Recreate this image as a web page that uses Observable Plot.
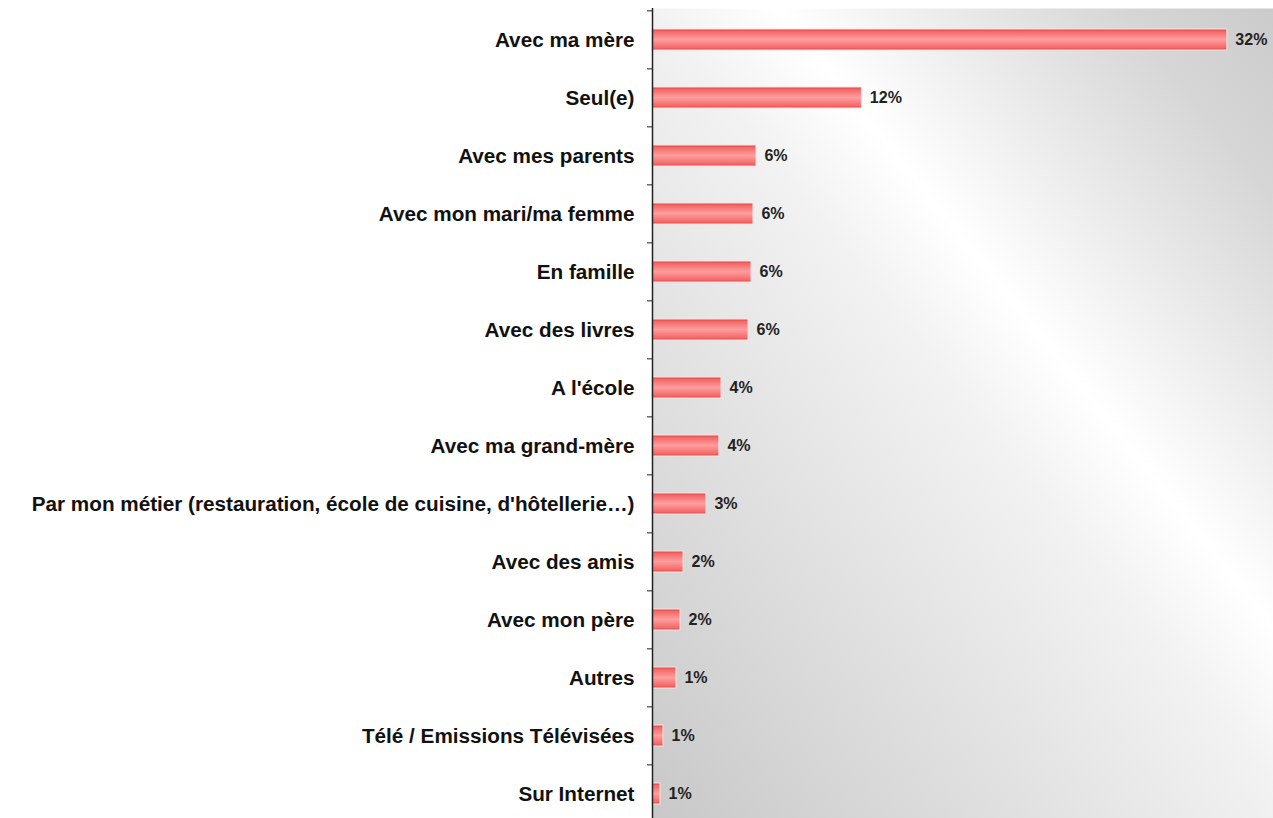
<!DOCTYPE html>
<html>
<head>
<meta charset="utf-8">
<script src="https://cdn.jsdelivr.net/npm/d3@7"></script>
<script src="https://cdn.jsdelivr.net/npm/@observablehq/plot@0.6"></script>
<style>
  html, body { margin: 0; padding: 0; background: #fff; }
  #chart svg { display: block; }
</style>
</head>
<body>
<div id="chart"></div>
<script>
const categories = [
  "Avec ma mère",
  "Seul(e)",
  "Avec mes parents",
  "Avec mon mari/ma femme",
  "En famille",
  "Avec des livres",
  "A l'école",
  "Avec ma grand-mère",
  "Par mon métier (restauration, école de cuisine, d'hôtellerie…)",
  "Avec des amis",
  "Avec mon père",
  "Autres",
  "Télé / Emissions Télévisées",
  "Sur Internet"
];
const values = [32.4, 11.8, 5.86, 5.69, 5.58, 5.41, 3.89, 3.77, 3.04, 1.75, 1.58, 1.35, 0.62, 0.45];
const valueLabels = ["32%", "12%", "6%", "6%", "6%", "6%", "4%", "4%", "3%", "2%", "2%", "1%", "1%", "1%"];

const data = categories.map((c, i) => ({cat: c, value: values[i], label: valueLabels[i]}));

const W = 1273, H = 818;
const yRange = [8.3, 824.5];
const step = (yRange[1] - yRange[0]) / categories.length;

const chart = Plot.plot({
  width: W,
  height: H,
  marginLeft: 652,
  marginRight: 0,
  marginTop: 8,
  marginBottom: 0,
  style: {fontFamily: "'Liberation Sans', Arial, sans-serif", background: "transparent", overflow: "visible"},
  x: {domain: [0, 35], axis: null},
  y: {domain: categories, range: yRange, paddingInner: 0.64, paddingOuter: 0.32, label: null},
  marks: [
    Plot.frame({fill: "url(#bgGrad)", stroke: null}),
    Plot.axisY({tickSize: 0, tickPadding: 18, fontSize: 20.7, fontWeight: "bold", fill: "#111", label: null}),
    Plot.axisY({tickSize: 5, tickFormat: () => "", dy: -step / 2, stroke: "#222", label: null}),
    Plot.barX(data, {x: "value", y: "cat", fill: "url(#barGrad)", stroke: "#fde2e2", strokeWidth: 1}),
    Plot.ruleX([0], {stroke: "#222", strokeWidth: 1.5}),
    Plot.text(data, {x: "value", y: "cat", text: "label", dx: 8, textAnchor: "start", fontSize: 16, fontWeight: "bold", fill: "#222"})
  ]
});

const svg = d3.select(chart);
const defs = svg.insert("defs", ":first-child");
const bg = defs.append("linearGradient")
  .attr("id", "bgGrad")
  .attr("gradientUnits", "userSpaceOnUse")
  .attr("x1", 1306).attr("y1", 49)
  .attr("x2", 532).attr("y2", 669);
[[0, "#cbcbcb"], [0.12, "#d6d6d6"], [0.39, "#ffffff"], [0.49, "#f2f2f2"], [0.735, "#dedede"], [1, "#c8c8c8"]]
  .forEach(([o, c]) => bg.append("stop").attr("offset", o).attr("stop-color", c));
const bar = defs.append("linearGradient")
  .attr("id", "barGrad")
  .attr("x1", 0).attr("y1", 0).attr("x2", 0).attr("y2", 1);
[[0, "#e04040"], [0.12, "#f26868"], [0.5, "#ff9e9e"], [0.88, "#f46a6a"], [1, "#e24848"]]
  .forEach(([o, c]) => bar.append("stop").attr("offset", o).attr("stop-color", c));

document.getElementById("chart").appendChild(chart);
</script>
</body>
</html>
